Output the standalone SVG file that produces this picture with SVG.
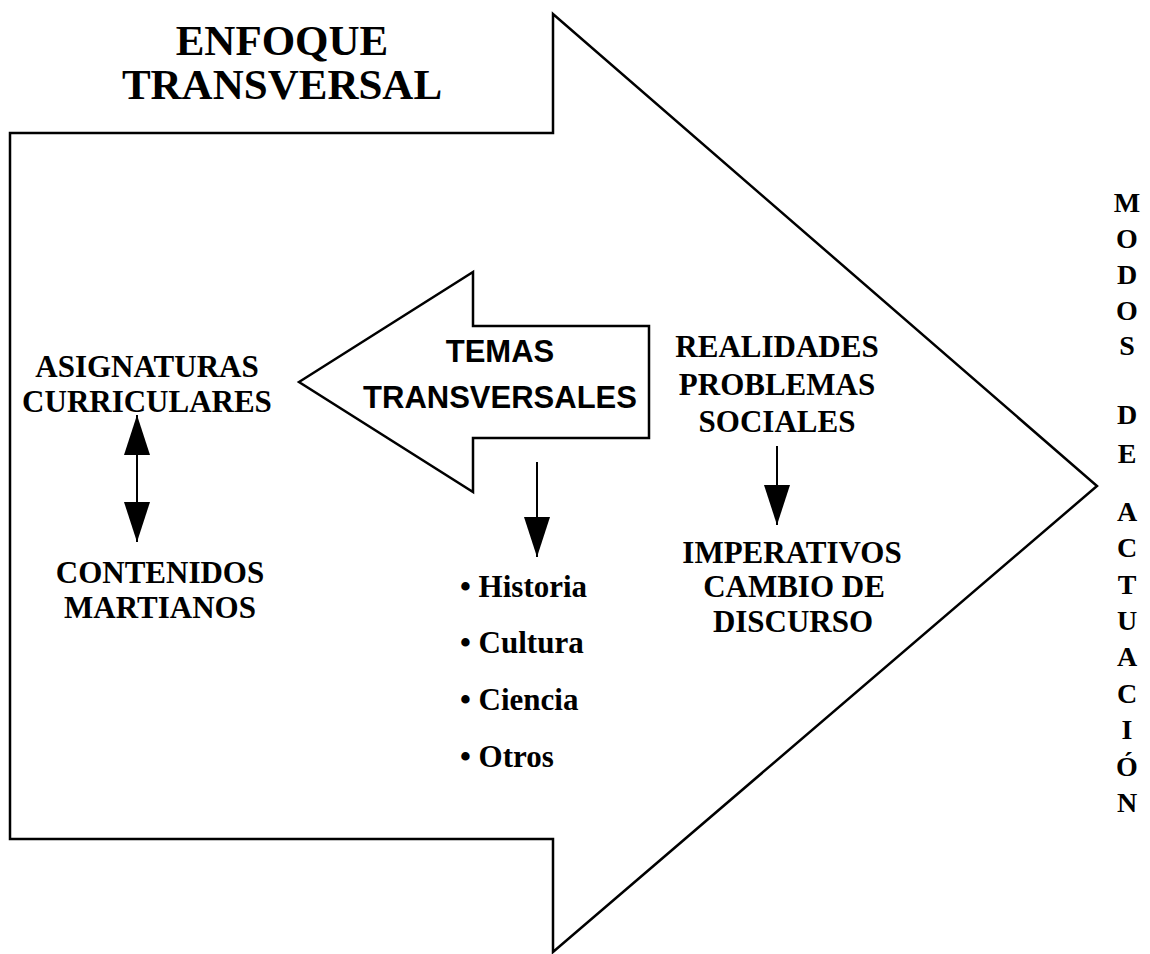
<svg xmlns="http://www.w3.org/2000/svg" width="1150" height="954" viewBox="0 0 1150 954">
<style>
.shape{fill:#fff;stroke:#000;stroke-width:2.5;stroke-linejoin:miter}
.t{font-family:"Liberation Serif","Times New Roman",serif;font-weight:bold;fill:#000;text-anchor:middle}
.s{font-family:"Liberation Sans",Arial,sans-serif;font-weight:bold;fill:#000;text-anchor:middle}
.l{font-family:"Liberation Serif","Times New Roman",serif;font-weight:bold;fill:#000;font-size:31px}
.v{font-family:"Liberation Serif","Times New Roman",serif;font-weight:bold;fill:#000;font-size:28px;text-anchor:middle}
.c{stroke:#000;stroke-width:2;fill:none}
</style>
<defs>
<marker id="ah" markerUnits="userSpaceOnUse" markerWidth="40" markerHeight="26" refX="40" refY="13" orient="auto-start-reverse">
<path d="M0,0 L40,13 L0,26 Z" fill="#000"/>
</marker>
</defs>
<g id="enfoque">
<polygon class="shape" points="10,133 553,133 553,14 1097,486 553,952 553,839 10,839"/>
<text class="t" font-size="43" x="282" y="55">ENFOQUE</text>
<text class="t" font-size="43" x="282" y="99">TRANSVERSAL</text>
</g>
<g id="temas">
<polygon class="shape" stroke-width="2" points="299,382 473,272 473,326 649,326 649,438 473,438 473,492"/>
<text class="s" font-size="31" x="500" y="362">TEMAS</text>
<text class="s" font-size="31" x="500" y="408">TRANSVERSALES</text>
</g>
<g id="asignaturas">
<text class="t" font-size="31" x="147" y="377">ASIGNATURAS</text>
<text class="t" font-size="31" x="147" y="412">CURRICULARES</text>
</g>
<g id="contenidos">
<text class="t" font-size="31" x="160" y="583">CONTENIDOS</text>
<text class="t" font-size="31" x="160" y="618">MARTIANOS</text>
</g>
<g id="realidades">
<text class="t" font-size="31" x="777" y="357">REALIDADES</text>
<text class="t" font-size="31" x="777" y="395">PROBLEMAS</text>
<text class="t" font-size="31" x="777" y="432">SOCIALES</text>
</g>
<g id="imperativos">
<text class="t" font-size="31" x="792" y="563">IMPERATIVOS</text>
<text class="t" font-size="31" x="794" y="597">CAMBIO DE</text>
<text class="t" font-size="31" x="793" y="632">DISCURSO</text>
</g>
<g id="lista">
<text class="l" x="460" y="597">• Historia</text>
<text class="l" x="460" y="653">• Cultura</text>
<text class="l" x="460" y="710">• Ciencia</text>
<text class="l" x="460" y="767">• Otros</text>
</g>
<g id="modos">
<text class="v" x="1127" y="212">M</text>
<text class="v" x="1127" y="248">O</text>
<text class="v" x="1127" y="284">D</text>
<text class="v" x="1127" y="320">O</text>
<text class="v" x="1127" y="355">S</text>
<text class="v" x="1127" y="424">D</text>
<text class="v" x="1127" y="463">E</text>
<text class="v" x="1127" y="521">A</text>
<text class="v" x="1127" y="557">C</text>
<text class="v" x="1127" y="594">T</text>
<text class="v" x="1127" y="630">U</text>
<text class="v" x="1127" y="666">A</text>
<text class="v" x="1127" y="703">C</text>
<text class="v" x="1127" y="739">I</text>
<text class="v" x="1127" y="776">Ó</text>
<text class="v" x="1127" y="812">N</text>
</g>
<g id="connectors">
<line class="c" x1="137" y1="415" x2="137" y2="542" marker-start="url(#ah)" marker-end="url(#ah)"/>
<line class="c" x1="537" y1="462" x2="537" y2="557" marker-end="url(#ah)"/>
<line class="c" x1="777" y1="446" x2="777" y2="525" marker-end="url(#ah)"/>
</g>
</svg>
